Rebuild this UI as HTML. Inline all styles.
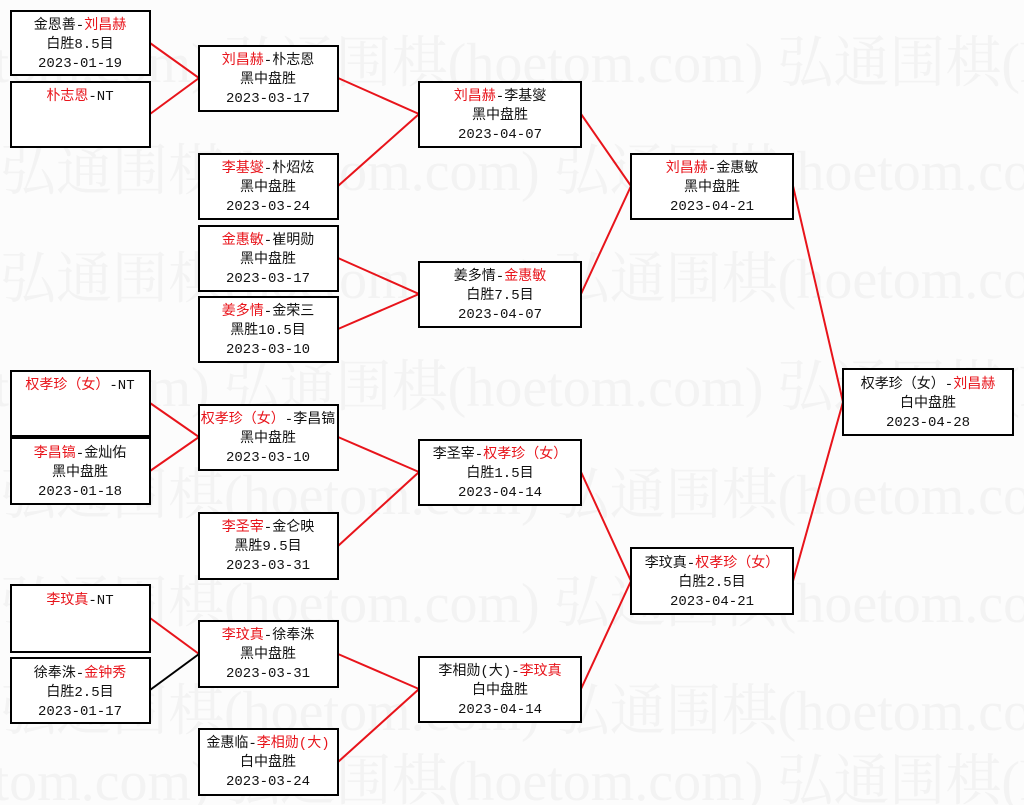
<!DOCTYPE html>
<html><head><meta charset="utf-8"><style>
html,body{margin:0;padding:0;background:#fcfcfc;}
svg{display:block;}
text{font-family:"Liberation Mono","Noto Sans CJK SC",monospace;font-size:14px;fill:#111;}
.r{fill:#e8141b;}
.wm{font-family:"Liberation Serif","Noto Serif CJK SC",serif;font-size:56px;fill:#f3f3f3;}
</style></head><body>
<svg width="1024" height="805" viewBox="0 0 1024 805" xmlns="http://www.w3.org/2000/svg">
<g>
<text class="wm" x="-330" y="82">弘通围棋(hoetom.com) 弘通围棋(hoetom.com) 弘通围棋(hoe</text>
<text class="wm" x="0" y="190">弘通围棋(hoetom.com) 弘通围棋(hoetom.com)</text>
<text class="wm" x="0" y="298">弘通围棋(hoetom.com) 弘通围棋(hoetom.com)</text>
<text class="wm" x="-330" y="406">弘通围棋(hoetom.com) 弘通围棋(hoetom.com) 弘通围棋(hoe</text>
<text class="wm" x="0" y="514">弘通围棋(hoetom.com) 弘通围棋(hoetom.com)</text>
<text class="wm" x="0" y="622">弘通围棋(hoetom.com) 弘通围棋(hoetom.com)</text>
<text class="wm" x="0" y="730">弘通围棋(hoetom.com) 弘通围棋(hoetom.com)</text>
<text class="wm" x="-330" y="800">弘通围棋(hoetom.com) 弘通围棋(hoetom.com) 弘通围棋(hoe</text>
</g>
<g stroke="#e8141b" stroke-width="2" fill="none">
<polyline points="150,43 199,78 150,114"/>
<polyline points="150,403 199,437 150,471"/>
<line x1="150" y1="618" x2="199" y2="654"/>
<polyline points="338,78 419,114 338,186"/>
<polyline points="338,258 419,294 338,329"/>
<polyline points="338,437 419,472 338,546"/>
<polyline points="338,654 419,689 338,762"/>
<polyline points="581,114 631,186 581,294"/>
<polyline points="581,472 631,581 581,689"/>
<polyline points="793,186 843,402 793,581"/>
</g>
<line x1="150" y1="690" x2="199" y2="654" stroke="#000" stroke-width="2"/>
<g fill="#fff" stroke="#000" stroke-width="2">
<rect x="11" y="11" width="139" height="64"/>
<rect x="11" y="82" width="139" height="65"/>
<rect x="11" y="371" width="139" height="65"/>
<rect x="11" y="438" width="139" height="66"/>
<rect x="11" y="585" width="139" height="67"/>
<rect x="11" y="658" width="139" height="65"/>
<rect x="199" y="46" width="139" height="65"/>
<rect x="199" y="154" width="139" height="65"/>
<rect x="199" y="226" width="139" height="65"/>
<rect x="199" y="297" width="139" height="65"/>
<rect x="199" y="405" width="139" height="65"/>
<rect x="199" y="513" width="139" height="66"/>
<rect x="199" y="621" width="139" height="66"/>
<rect x="199" y="729" width="139" height="66"/>
<rect x="419" y="82" width="162" height="65"/>
<rect x="419" y="262" width="162" height="65"/>
<rect x="419" y="440" width="162" height="65"/>
<rect x="419" y="657" width="162" height="65"/>
<rect x="631" y="154" width="162" height="65"/>
<rect x="631" y="548" width="162" height="66"/>
<rect x="843" y="369" width="170" height="66"/>
</g>
<g text-anchor="middle">
<text x="80" y="29">金恩善-<tspan class="r">刘昌赫</tspan></text><text x="80" y="48">白胜8.5目</text><text x="80" y="67">2023-01-19</text>
<text x="80" y="100"><tspan class="r">朴志恩</tspan>-NT</text>
<text x="80" y="389"><tspan class="r">权孝珍（女）</tspan>-NT</text>
<text x="80" y="457"><tspan class="r">李昌镐</tspan>-金灿佑</text><text x="80" y="476">黑中盘胜</text><text x="80" y="495">2023-01-18</text>
<text x="80" y="604"><tspan class="r">李玟真</tspan>-NT</text>
<text x="80" y="677">徐奉洙-<tspan class="r">金钟秀</tspan></text><text x="80" y="696">白胜2.5目</text><text x="80" y="715">2023-01-17</text>

<text x="268" y="64"><tspan class="r">刘昌赫</tspan>-朴志恩</text><text x="268" y="83">黑中盘胜</text><text x="268" y="102">2023-03-17</text>
<text x="268" y="172"><tspan class="r">李基燮</tspan>-朴炤炫</text><text x="268" y="191">黑中盘胜</text><text x="268" y="210">2023-03-24</text>
<text x="268" y="244"><tspan class="r">金惠敏</tspan>-崔明勋</text><text x="268" y="263">黑中盘胜</text><text x="268" y="282">2023-03-17</text>
<text x="268" y="315"><tspan class="r">姜多情</tspan>-金荣三</text><text x="268" y="334">黑胜10.5目</text><text x="268" y="353">2023-03-10</text>
<text x="268" y="423"><tspan class="r">权孝珍（女）</tspan>-李昌镐</text><text x="268" y="442">黑中盘胜</text><text x="268" y="461">2023-03-10</text>
<text x="268" y="531"><tspan class="r">李圣宰</tspan>-金仑映</text><text x="268" y="550">黑胜9.5目</text><text x="268" y="569">2023-03-31</text>
<text x="268" y="639"><tspan class="r">李玟真</tspan>-徐奉洙</text><text x="268" y="658">黑中盘胜</text><text x="268" y="677">2023-03-31</text>
<text x="268" y="747">金惠临-<tspan class="r">李相勋(大)</tspan></text><text x="268" y="766">白中盘胜</text><text x="268" y="785">2023-03-24</text>

<text x="500" y="100"><tspan class="r">刘昌赫</tspan>-李基燮</text><text x="500" y="119">黑中盘胜</text><text x="500" y="138">2023-04-07</text>
<text x="500" y="280">姜多情-<tspan class="r">金惠敏</tspan></text><text x="500" y="299">白胜7.5目</text><text x="500" y="318">2023-04-07</text>
<text x="500" y="458">李圣宰-<tspan class="r">权孝珍（女）</tspan></text><text x="500" y="477">白胜1.5目</text><text x="500" y="496">2023-04-14</text>
<text x="500" y="675">李相勋(大)-<tspan class="r">李玟真</tspan></text><text x="500" y="694">白中盘胜</text><text x="500" y="713">2023-04-14</text>

<text x="712" y="172"><tspan class="r">刘昌赫</tspan>-金惠敏</text><text x="712" y="191">黑中盘胜</text><text x="712" y="210">2023-04-21</text>
<text x="712" y="567">李玟真-<tspan class="r">权孝珍（女）</tspan></text><text x="712" y="586">白胜2.5目</text><text x="712" y="605">2023-04-21</text>

<text x="928" y="388">权孝珍（女）-<tspan class="r">刘昌赫</tspan></text><text x="928" y="407">白中盘胜</text><text x="928" y="426">2023-04-28</text>
</g>
</svg>
</body></html>
